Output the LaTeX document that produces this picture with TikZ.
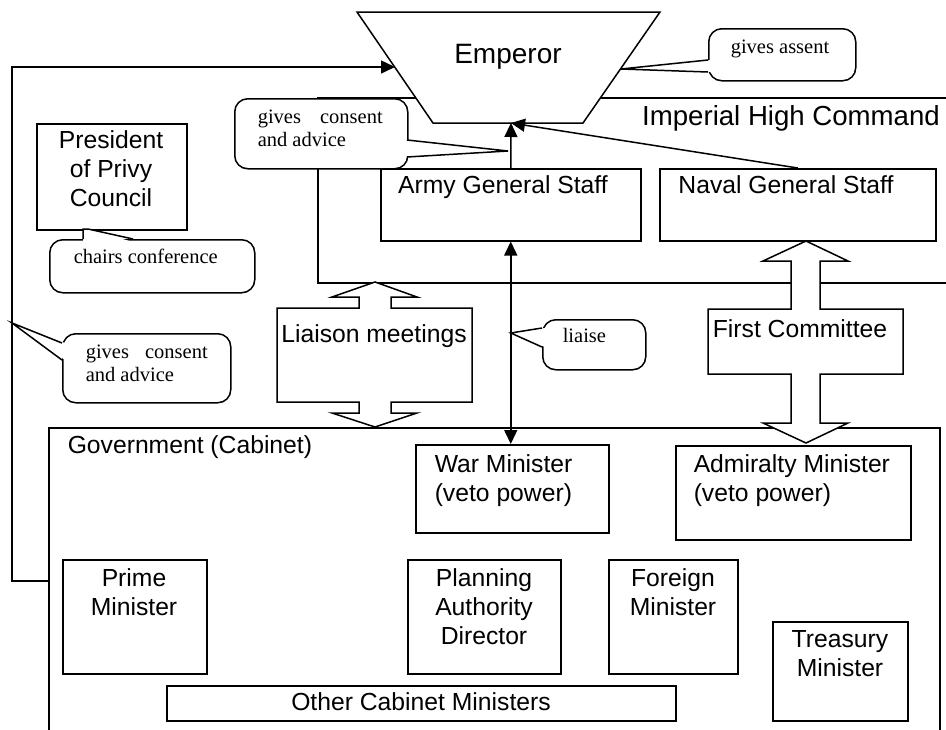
\documentclass[tikz,border=0pt]{standalone}
\usepackage{fontspec}
\setmainfont{Liberation Sans}
\newfontfamily\callfont{Liberation Serif}
\usetikzlibrary{arrows.meta}
\begin{document}
\begin{tikzpicture}[x=1pt,y=-1pt, line width=1.5pt, line join=miter,
  box/.style={draw, fill=white, inner sep=0pt, anchor=north west},
  txt/.style={font=\fontsize{24.7}{29.3}\selectfont, inner sep=0pt, anchor=base, align=center},
  ltxt/.style={font=\fontsize{24.7}{29.3}\selectfont, inner sep=0pt, anchor=base west, align=left},
  callbox/.style={draw, fill=white, rounded corners=13pt, inner sep=0pt, anchor=north west},
  ctxt/.style={font=\callfont\fontsize{20.5}{23.5}\selectfont, inner sep=0pt, anchor=base west, align=left},
  arr/.style={-{Triangle[length=14pt,width=13pt]}},
  darr/.style={{Triangle[length=14pt,width=13pt]}-{Triangle[length=14pt,width=13pt]}},
  blockarrow/.style={draw, fill=white}
]
\useasboundingbox (0,0) rectangle (946,729);
\clip (0,0) rectangle (946,729);
\fill[white] (0,0) rectangle (946,729);

% containers
\node[box, minimum width=643pt, minimum height=185pt] (ihc) at (317,97) {};
\node[box, minimum width=891pt, minimum height=320pt] (gov) at (48,427) {};

% Emperor
\draw[fill=white] (357,12) -- (660,12) -- (583,123) -- (433,123) -- cycle;
\node[txt, font=\fontsize{28}{32}\selectfont] (emperor) at (508,63) {Emperor};
\coordinate (empbot) at (511,123);
\coordinate (empleft) at (395,67);
\coordinate (empright) at (621,69);

\node[txt, font=\fontsize{27.6}{32}\selectfont] (ihctext) at (791,125) {Imperial High Command};
\node[ltxt] (govtext) at (67,453) {Government (Cabinet)};

% boxes (multi-line text nodes are placed by their last baseline)
\node[box, minimum width=150pt, minimum height=106pt] (president) at (36,123) {};
\node[txt] (presidenttext) at (111,206.6) {President\\of Privy\\Council};
\node[box, minimum width=260pt, minimum height=72pt] (army) at (380,168) {};
\node[txt] (armytext) at (503,193) {Army General Staff};
\node[box, minimum width=276pt, minimum height=72pt] (naval) at (659,168) {};
\node[txt] (navaltext) at (786,193) {Naval General Staff};
\node[box, minimum width=193pt, minimum height=88pt] (war) at (415,444) {};
\node[ltxt] (wartext) at (434,501.3) {War Minister\\(veto power)};
\node[box, minimum width=235pt, minimum height=94pt] (admiralty) at (675,445) {};
\node[ltxt] (admtext) at (693,501.3) {Admiralty Minister\\(veto power)};
\node[box, minimum width=144pt, minimum height=114pt] (prime) at (62,559) {};
\node[txt] (primetext) at (134,615.3) {Prime\\Minister};
\node[box, minimum width=153pt, minimum height=114pt] (planning) at (407,559) {};
\node[txt] (planningtext) at (484,644.6) {Planning\\Authority\\Director};
\node[box, minimum width=129pt, minimum height=114pt] (foreign) at (608,559) {};
\node[txt] (foreigntext) at (673,615.3) {Foreign\\Minister};
\node[box, minimum width=135pt, minimum height=99pt] (treasury) at (772,621) {};
\node[txt] (treasurytext) at (840,676.3) {Treasury\\Minister};
\node[box, minimum width=509pt, minimum height=35pt] (others) at (166,685) {};
\node[txt] (otherstext) at (421,710) {Other Cabinet Ministers};

% connectors
\draw[arr] (army.north) -- (empbot);
\draw[arr] (naval.north) -- (empbot);
\draw[darr] (army.south) -- (army.south |- war.north);
\coordinate (fb1) at (12,581);
\draw[arr] (gov.west |- fb1) -- (fb1) -- (fb1 |- empleft) -- (empleft);

% block arrows
\draw[blockarrow] (375,282) -- (417,297) -- (391,297) -- (391,308) -- (472,308) -- (472,402) -- (391,402) -- (391,413) -- (417,413) -- (375,427) -- (332,413) -- (359,413) -- (359,402) -- (277,402) -- (277,308) -- (359,308) -- (359,297) -- (332,297) -- cycle;
\node[txt] (liaison) at (374,342) {Liaison meetings};
\draw[blockarrow] (806,241) -- (848,261) -- (820,261) -- (820,309) -- (903,309) -- (903,374) -- (820,374) -- (820,423) -- (848,423) -- (806,443) -- (763,423) -- (791,423) -- (791,374) -- (708,374) -- (708,309) -- (791,309) -- (791,261) -- (763,261) -- cycle;
\node[txt] (firstc) at (800,337) {First Committee};

% callouts
\node[callbox, minimum width=173pt, minimum height=70pt] (c1) at (234,98) {};
\fill[white] (404,140) -- (508,151) -- (404,157) -- cycle;
\draw (407,140) -- (508,151) -- (407,157);
\node[ctxt] (c1text) at (257,146.5) {\makebox[125pt][s]{gives consent}\\and advice};

\node[callbox, minimum width=147pt, minimum height=52pt] (c2) at (708,28) {};
\fill[white] (711,60) -- (empright) -- (711,72) -- cycle;
\draw (708,60) -- (empright) -- (708,72);
\node[ctxt] (c2text) at (730,53) {gives assent};

\node[callbox, minimum width=205pt, minimum height=53pt] (c3) at (49,239) {};
\fill[white] (83,242) -- (83,229) -- (88,229) -- (133,242) -- cycle;
\draw (83,239) -- (83,229) -- (88,229) -- (133,239);
\node[ctxt] (c3text) at (73,263) {chairs conference};

\node[callbox, minimum width=168pt, minimum height=69pt] (c4) at (62,333) {};
\fill[white] (65,343) -- (fb1 |- 0,323) -- (65,360) -- cycle;
\draw (62,343) -- (fb1 |- 0,323) -- (62,360);
\node[ctxt] (c4text) at (85,381.5) {\makebox[122pt][s]{gives consent}\\and advice};

\node[callbox, minimum width=103pt, minimum height=50pt] (c5) at (542,319) {};
\fill[white] (545,328) -- (army.south |- 0,333) -- (545,347) -- cycle;
\draw (542,328) -- (army.south |- 0,333) -- (542,347);
\node[ctxt] (c5text) at (562,342) {liaise};
\end{tikzpicture}
\end{document}
